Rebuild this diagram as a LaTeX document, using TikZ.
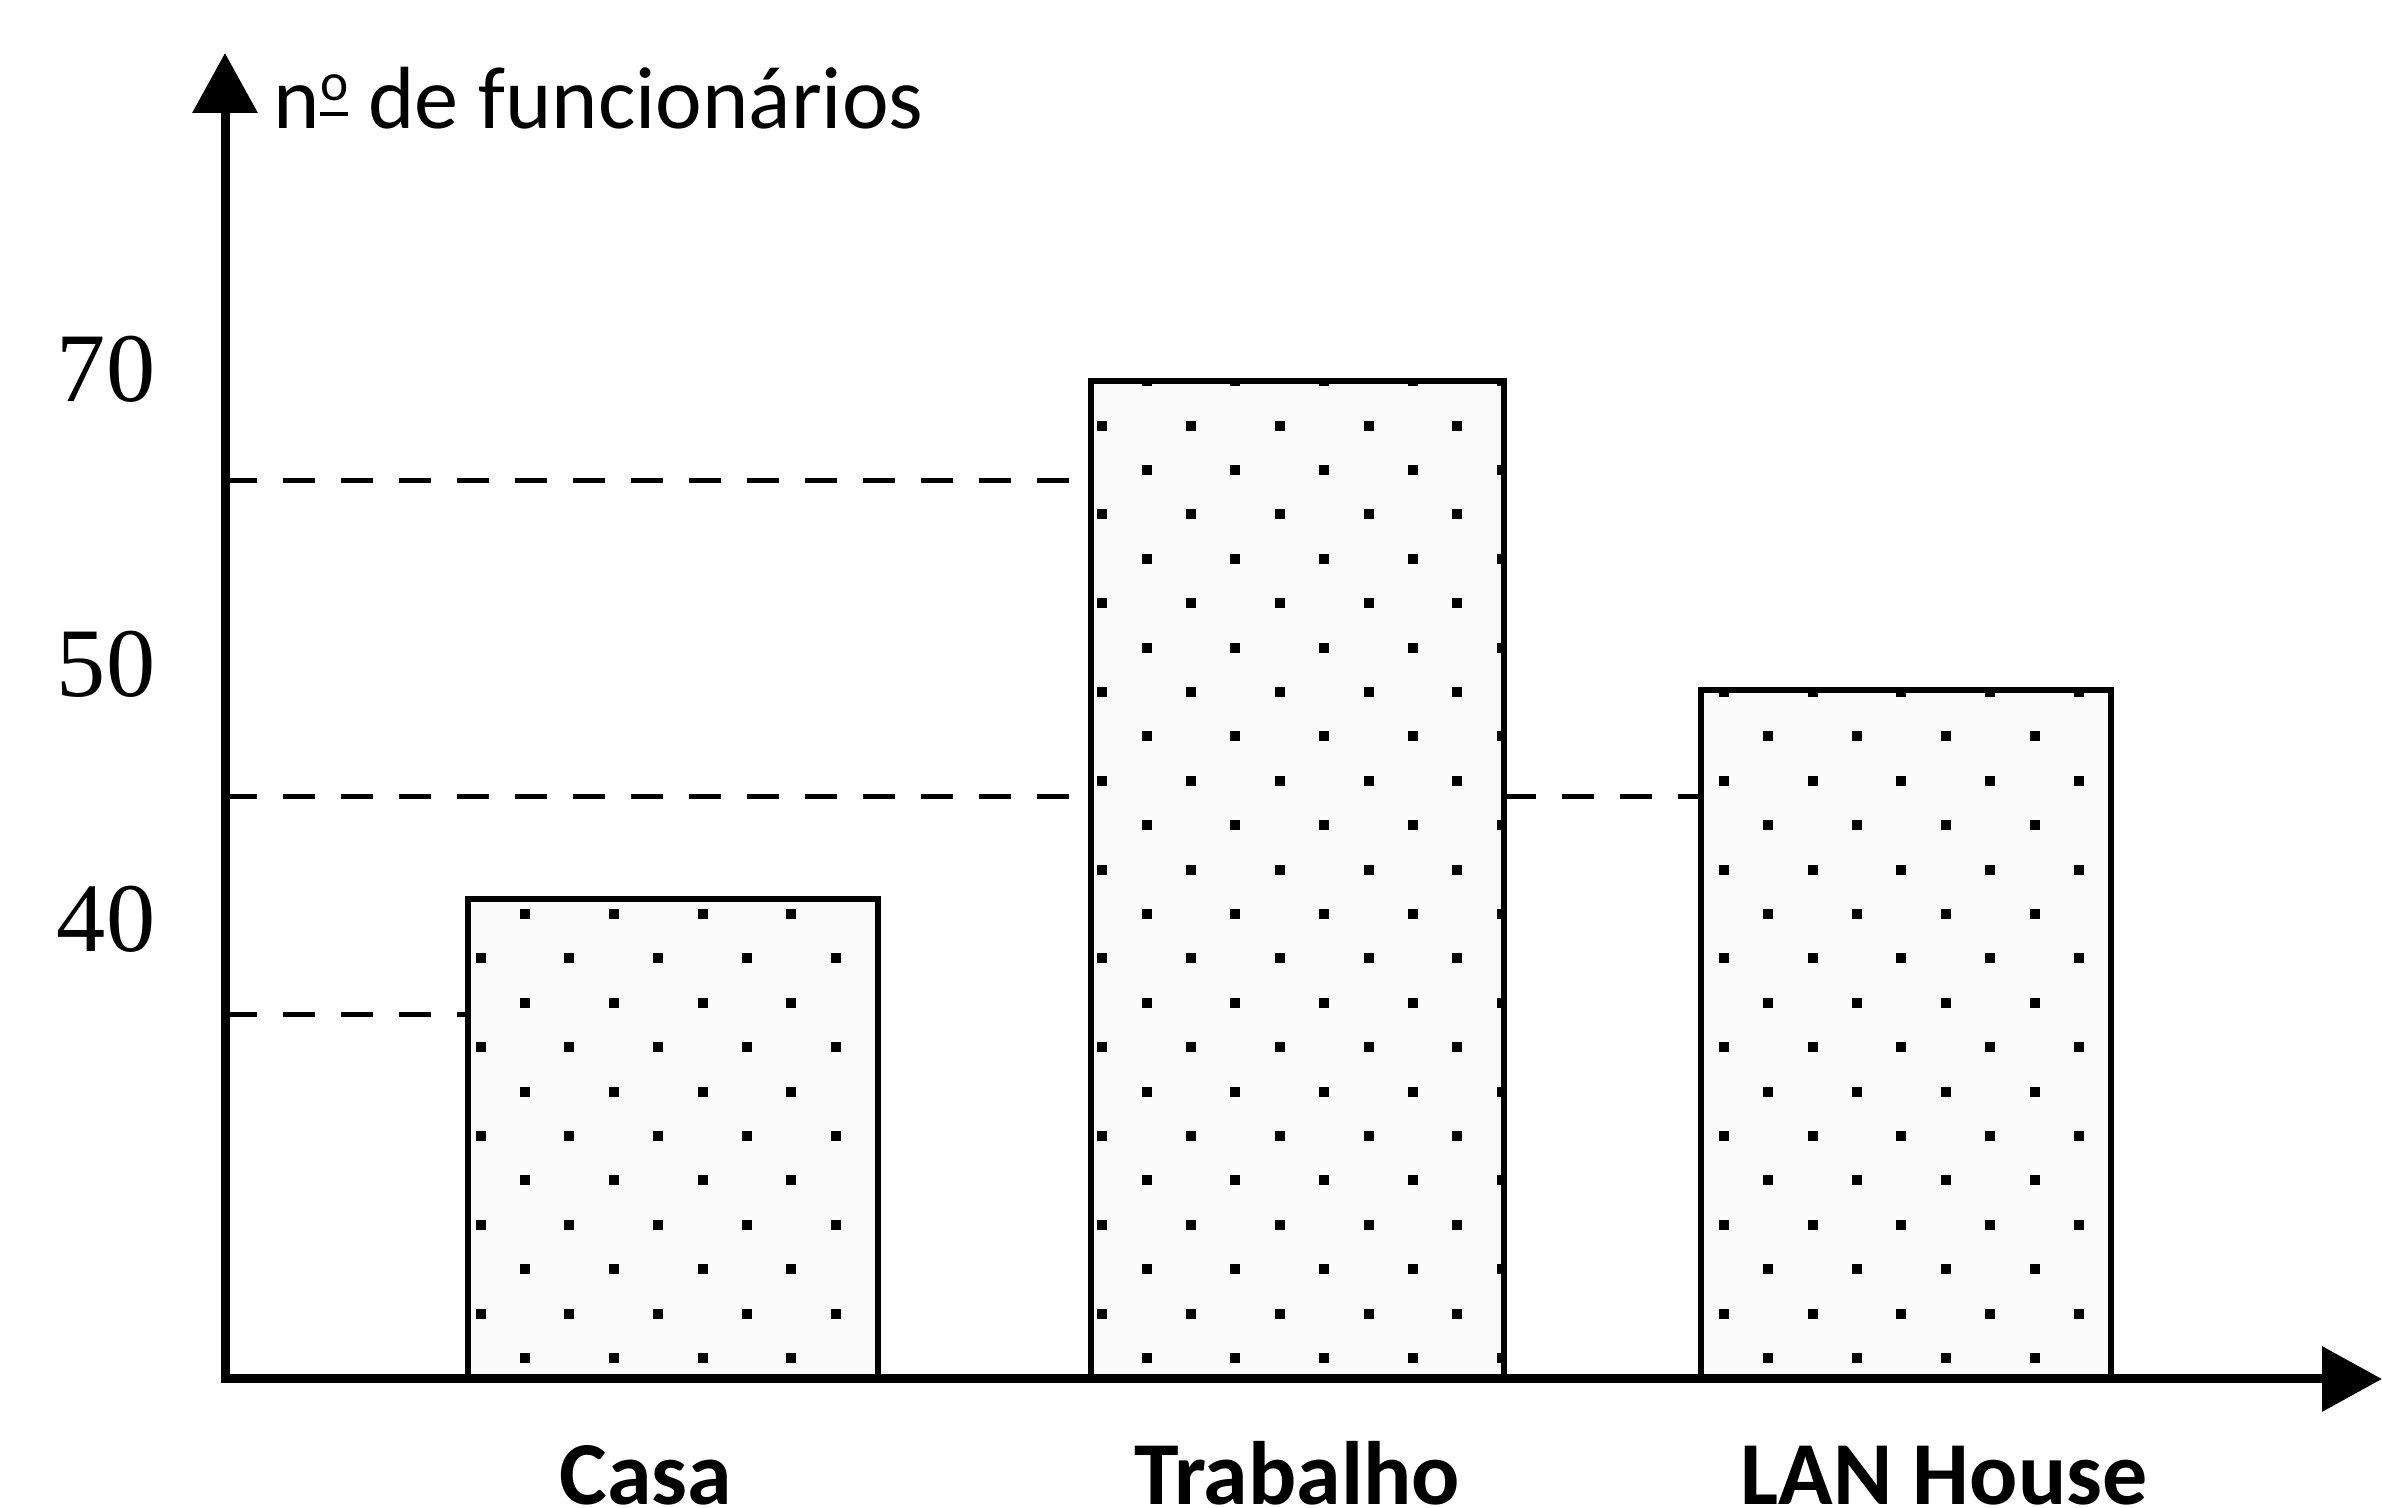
\documentclass[tikz,border=0pt]{standalone}
\usepackage{fontspec}
\setmainfont{Carlito}
\newfontfamily\numfont{Liberation Serif}
\usetikzlibrary{arrows.meta}
\newcommand\dotsin[4]{%
 \begin{scope}
 \clip (#1,#2) rectangle (#3,#4);
 \foreach \ii in {-1,...,21} {\foreach \jj in {-7,...,6} {
   \fill (525+88.8*\ii-5, 914+88.8*\jj-5) rectangle ++(10,10);
   \fill (480.6+88.8*\ii-5, 958.4+88.8*\jj-5) rectangle ++(10,10);
 }}
 \end{scope}}
\newcommand\myordm{\setbox0\hbox{\fontsize{16}{16}\selectfont o}\rlap{\raisebox{4pt}{\rule{\wd0}{1.1pt}}}\raisebox{8.4pt}{\box0}}
\begin{document}
\begin{tikzpicture}[x=0.3pt,y=-0.3pt,
  axisline/.style={line width=2.7pt, {Triangle[length=18pt,width=19pt]}-{Triangle[length=18pt,width=19pt]}},
  barbox/.style={line width=1.8pt},
  barfill/.style={fill=gray!4},
  guide/.style={line width=1.5pt, dash pattern=on 9.6pt off 7.8pt},
  ticklabel/.style={font=\numfont\fontsize{29.5}{30}\selectfont, inner sep=0pt},
  catlabel/.style={font=\bfseries\fontsize{27}{28}\selectfont, inner sep=0pt, anchor=base},
  axislabel/.style={font=\fontsize{26.5}{28}\selectfont, inner sep=0pt, anchor=base west}]
\useasboundingbox (0,0) rectangle (2382,1508);
% named points
\coordinate (o) at (225,1379);
\coordinate (ytip) at (225,53);
\coordinate (xtip) at (2382,1379);
\coordinate (casaTL) at (468,899);   \coordinate (casaBR) at (878,1379);
\coordinate (trabTL) at (1091,381);  \coordinate (trabBR) at (1504,1379);
\coordinate (lanTL) at (1701,690);   \coordinate (lanBR) at (2111,1379);
\coordinate (g1a) at (225,481);  \coordinate (g1b) at (1091,481);
\coordinate (g2a) at (225,797);  \coordinate (g2b) at (1091,797);
\coordinate (g2c) at (1504,797); \coordinate (g2d) at (1701,797);
\coordinate (g3a) at (225,1015); \coordinate (g3b) at (468,1015);
% bars
\fill[barfill] (casaTL) rectangle (casaBR);
\fill[barfill] (trabTL) rectangle (trabBR);
\fill[barfill] (lanTL) rectangle (lanBR);
\dotsin{468}{899}{878}{1379}
\dotsin{1091}{381}{1504}{1379}
\dotsin{1701}{690}{2111}{1379}
\draw[barbox] (casaTL) rectangle (casaBR);
\draw[barbox] (trabTL) rectangle (trabBR);
\draw[barbox] (lanTL) rectangle (lanBR);
% guides
\draw[guide] (g1a) -- (g1b);
\draw[guide] (g2a) -- (g2b);
\draw[guide] (g2c) -- (g2d);
\draw[guide] (g3a) -- (g3b);
% axes
\draw[axisline] (ytip) -- (o) -- (xtip);
% labels
\node[axislabel] (ylab) at (273,129) {n\myordm\ de funcionários};
\node[ticklabel] (t70) at (106,369) {70};
\node[ticklabel] (t50) at (106,664) {50};
\node[ticklabel] (t40) at (106,919) {40};
\node[catlabel] (lcasa) at (646,1504) {Casa};
\node[catlabel] (ltrab) at (1297,1504) {Trabalho};
\node[catlabel] (llan) at (1944,1504) {LAN House};
\end{tikzpicture}
\end{document}
